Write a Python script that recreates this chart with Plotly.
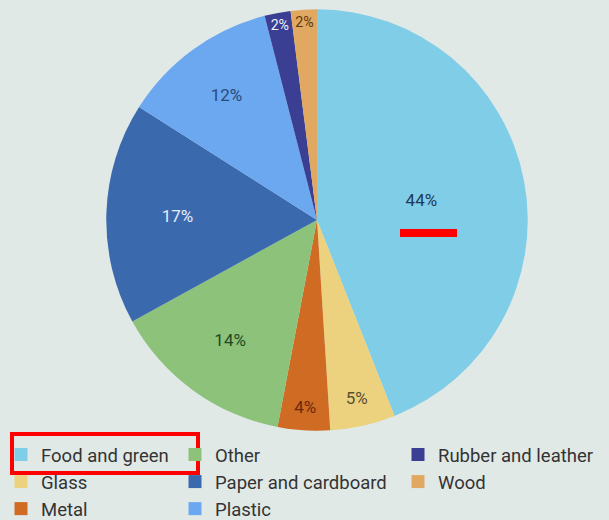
import plotly.graph_objects as go

categories = ["Food and green", "Glass", "Metal", "Other", "Paper and cardboard",
              "Plastic", "Rubber and leather", "Wood"]
values = [44, 5, 4, 14, 17, 12, 2, 2]
colors = ["#7fcde6", "#ecd27f", "#cf6b22", "#8cc27a", "#3b69ad",
          "#6ba8f0", "#3a3f94", "#e1a862"]
text_colors = ["#1f3a5a", "#5a5030", "#6a2a10", "#1f4a1f", "#e6ecff",
               "#2a4a7a", "#eef0ff", "#5a3a10"]

fig = go.Figure()
fig.add_trace(go.Pie(
    labels=categories, values=values, sort=False, direction="clockwise",
    rotation=0, marker=dict(colors=colors, line=dict(width=0)),
    texttemplate="%{value}%", textposition="inside",
    insidetextorientation="horizontal",
    textfont=dict(size=17, color=text_colors, family="Roboto"),
    showlegend=False, hoverinfo="label+percent",
    domain=dict(x=[0.1745, 0.8665], y=[0.171, 0.983]),
))

# legend entries in 3 columns (column-major)
legend_cols = [[0, 1, 2], [3, 4, 5], [6, 7]]
legend_x = [1, 175, 398]
for li, col in enumerate(legend_cols):
    name = "legend" if li == 0 else f"legend{li+1}"
    for idx in col:
        fig.add_trace(go.Scatter(
            x=[None], y=[None], mode="markers", name=categories[idx],
            marker=dict(symbol="square", size=13, color=colors[idx]),
            legend=name, showlegend=True,
        ))

legend_common = dict(yanchor="top", y=1 - 436/520, xanchor="left", orientation="v",
                     bgcolor="rgba(0,0,0,0)", font=dict(size=18.5, color="#333333", family="Roboto"),
                     itemwidth=30, tracegroupgap=0)
fig.update_layout(
    legend=dict(x=legend_x[0]/609, **legend_common),
    legend2=dict(x=legend_x[1]/609, **legend_common),
    legend3=dict(x=legend_x[2]/609, **legend_common),
)

# red highlight marks
fig.add_shape(type="rect", xref="paper", yref="paper",
              x0=12/609, x1=198/609, y0=1-473/520, y1=1-434/520,
              line=dict(color="#ff0000", width=4))
fig.add_shape(type="rect", xref="paper", yref="paper",
              x0=400/609, x1=457/609, y0=1-237/520, y1=1-229/520,
              fillcolor="#ff0000", line=dict(width=0))

fig.update_layout(
    width=609, height=520,
    margin=dict(l=0, r=0, t=0, b=0, autoexpand=False),
    paper_bgcolor="#e1e9e7", plot_bgcolor="#e1e9e7",
    xaxis=dict(visible=False), yaxis=dict(visible=False),
    font=dict(family="Roboto"),
)
fig.write_html("out.html", post_script="document.body.style.margin='0';",
               config={"displayModeBar": False})
